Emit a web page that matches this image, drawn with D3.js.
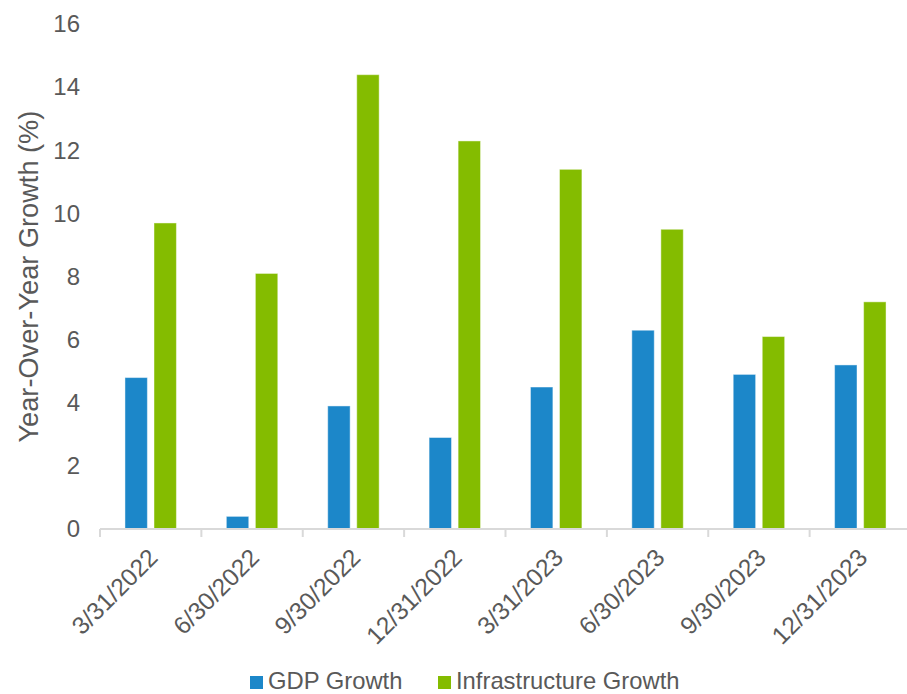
<!DOCTYPE html>
<html>
<head>
<meta charset="utf-8">
<script src="https://cdn.jsdelivr.net/npm/d3@7"></script>
<style>
  html, body { margin: 0; padding: 0; background: #fff; }
  svg { display: block; }
  text { font-family: "Liberation Sans", Arial, sans-serif; fill: #595959; }
</style>
</head>
<body>
<svg id="chart" width="907" height="694"></svg>
<script>
// Quarter-end dates and year-over-year growth rates (%)
const quarters = ["3/31/2022", "6/30/2022", "9/30/2022", "12/31/2022",
                  "3/31/2023", "6/30/2023", "9/30/2023", "12/31/2023"];
const gdpGrowth = [4.8, 0.4, 3.9, 2.9, 4.5, 6.3, 4.9, 5.2];
const infraGrowth = [9.7, 8.1, 14.4, 12.3, 11.4, 9.5, 6.1, 7.2];
const seriesNames = ["GDP Growth", "Infrastructure Growth"];
const seriesColors = ["#1c87c9", "#84bc00"];
const yTicks = [0, 2, 4, 6, 8, 10, 12, 14, 16];

const svg = d3.select("#chart");
const plot = { left: 100, right: 911, top: 24.2, bottom: 529 };

const x = d3.scaleBand().domain(quarters).range([plot.left, plot.right]).padding(0);
const xs = d3.scaleBand().domain(seriesNames).range([0, x.bandwidth()])
  .paddingInner(0.228).paddingOuter(0.86);
const y = d3.scaleLinear().domain([0, 16]).range([plot.bottom, plot.top]);

const rows = quarters.map((q, i) => ({ q, values: [gdpGrowth[i], infraGrowth[i]] }));

// Bars
const groups = svg.append("g").selectAll("g").data(rows).join("g")
  .attr("transform", d => `translate(${x(d.q)},0)`);
groups.selectAll("rect")
  .data(d => d.values.map((v, j) => ({ name: seriesNames[j], v, c: seriesColors[j] })))
  .join("rect")
  .attr("x", d => xs(d.name))
  .attr("width", xs.bandwidth())
  .attr("y", d => y(d.v))
  .attr("height", d => y(0) - y(d.v))
  .attr("fill", d => d.c)
  .attr("stroke", "#ffffff")
  .attr("stroke-opacity", 0.45)
  .attr("stroke-width", 1);

// Y axis labels (no axis line, no gridlines)
const yAxis = svg.append("g")
  .attr("transform", `translate(${plot.left - 20},0)`)
  .call(d3.axisLeft(y).tickValues(yTicks).tickSize(0).tickPadding(0).tickFormat(d3.format("d")));
yAxis.select(".domain").remove();
yAxis.selectAll("text")
  .style("font-size", "24px")
  .style("font-family", "'Liberation Sans', Arial, sans-serif")
  .attr("fill", "#595959");

// X axis with tick marks on category boundaries
const xAxisG = svg.append("g").attr("transform", `translate(0,${plot.bottom})`);
xAxisG.append("line")
  .attr("x1", plot.left).attr("x2", plot.right)
  .attr("y1", 0).attr("y2", 0)
  .attr("stroke", "#d9d9d9").attr("stroke-width", 2);
const boundaries = quarters.map(q => x(q));
xAxisG.selectAll("line.tick").data(boundaries).join("line")
  .attr("class", "tick")
  .attr("x1", d => d).attr("x2", d => d)
  .attr("y1", 0).attr("y2", 8)
  .attr("stroke", "#d9d9d9").attr("stroke-width", 2);
xAxisG.selectAll("text").data(quarters).join("text")
  .attr("transform", d => `translate(${x(d) + x.bandwidth() / 2 + 8.5},30) rotate(-45)`)
  .attr("text-anchor", "end")
  .style("font-size", "24.5px")
  .text(d => d);

// Y axis title
svg.append("text")
  .attr("transform", `translate(38,${(plot.top + plot.bottom) / 2}) rotate(-90)`)
  .attr("text-anchor", "middle")
  .style("font-size", "27.2px")
  .text("Year-Over-Year Growth (%)");

// Legend
const legendItems = [
  { name: seriesNames[0], color: seriesColors[0], x: 250 },
  { name: seriesNames[1], color: seriesColors[1], x: 438 }
];
const legend = svg.append("g");
legend.selectAll("rect").data(legendItems).join("rect")
  .attr("x", d => d.x).attr("y", 676)
  .attr("width", 13).attr("height", 13)
  .attr("fill", d => d.color);
legend.selectAll("text").data(legendItems).join("text")
  .attr("x", d => d.x + 18).attr("y", 689)
  .style("font-size", "23.8px")
  .text(d => d.name);
</script>
</body>
</html>
